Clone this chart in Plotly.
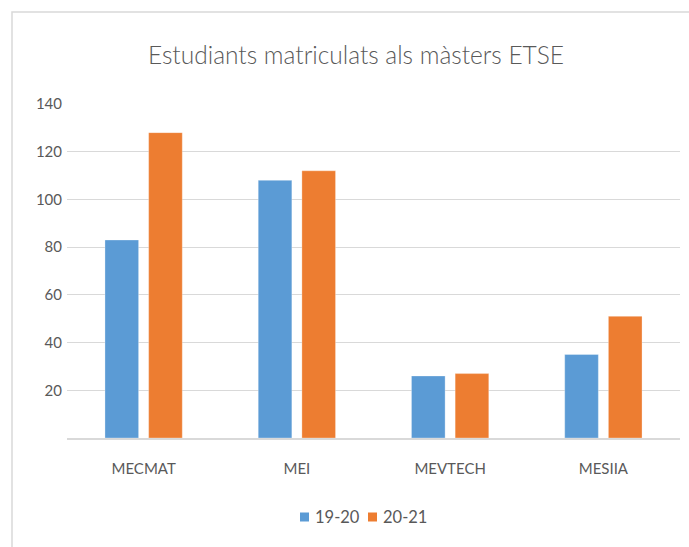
import plotly.graph_objects as go

categories = ["MECMAT", "MEI", "MEVTECH", "MESIIA"]
series_names = ["19-20", "20-21"]
values_1920 = [83, 108, 26, 35]
values_2021 = [128, 112, 27, 51]
y_ticks = [20, 40, 60, 80, 100, 120, 140]

colors = ["#5B9BD5", "#ED7D31"]
text_color = "#595959"
font_family = "Lato, 'Open Sans', sans-serif"

fig = go.Figure()
for name, vals, col in zip(series_names, [values_1920, values_2021], colors):
    fig.add_trace(go.Bar(
        x=categories, y=vals, name=name, showlegend=False,
        marker=dict(color=col, line=dict(color="rgba(255,255,255,0.6)", width=0.5)),
    ))

W, H = 689, 547
L, R, T, B = 67, 9, 104, 109
pw, ph = W - L - R, H - T - B

def px_x(p):
    return (p - L) / pw

def px_y(p):
    return (H - B - p) / ph

shapes = [dict(type="rect", xref="paper", yref="paper",
               x0=px_x(12), x1=px_x(720), y0=px_y(580), y1=px_y(12),
               line=dict(color="#D9D9D9", width=1.5), fillcolor="rgba(0,0,0,0)",
               layer="below")]
annotations = []
# manual legend (Excel-style compact)
legend_x = [300, 368]
legend_y = 517
for name, col, lx in zip(series_names, colors, legend_x):
    shapes.append(dict(type="rect", xref="paper", yref="paper",
                       x0=px_x(lx), x1=px_x(lx + 9),
                       y0=px_y(legend_y + 4.5), y1=px_y(legend_y - 4.5),
                       line=dict(width=0), fillcolor=col))
    annotations.append(dict(text=name, xref="paper", yref="paper",
                            x=px_x(lx + 13), y=px_y(legend_y),
                            xanchor="left", yanchor="middle", showarrow=False,
                            font=dict(size=16.5, color=text_color)))

fig.update_layout(
    width=W, height=H,
    margin=dict(l=L, r=R, t=T, b=B),
    paper_bgcolor="white", plot_bgcolor="white",
    barmode="group", bargap=0.43, bargroupgap=0.23,
    font=dict(family=font_family, color=text_color, size=15),
    title=dict(text="Estudiants matriculats als màsters ETSE",
               x=px_x(356), xref="paper", xanchor="center",
               y=1 - 55 / H, yanchor="middle",
               font=dict(size=24.5, color=text_color, family=font_family, weight=300)),
    showlegend=False,
    shapes=shapes,
    annotations=annotations,
)
fig.update_xaxes(showline=True, linecolor="#D9D9D9", linewidth=1.5,
                 ticks="", ticklabelstandoff=16,
                 tickfont=dict(size=15, color=text_color))
fig.update_yaxes(range=[0, 140], tickvals=y_ticks, showgrid=True,
                 gridcolor="#D9D9D9", gridwidth=1.2, zeroline=False,
                 ticks="", ticklabelstandoff=4,
                 tickfont=dict(size=15, color=text_color))

fig.write_html("out.html", config={"displayModeBar": False},
               post_script="document.body.style.margin='0px';document.body.style.padding='0px';")
